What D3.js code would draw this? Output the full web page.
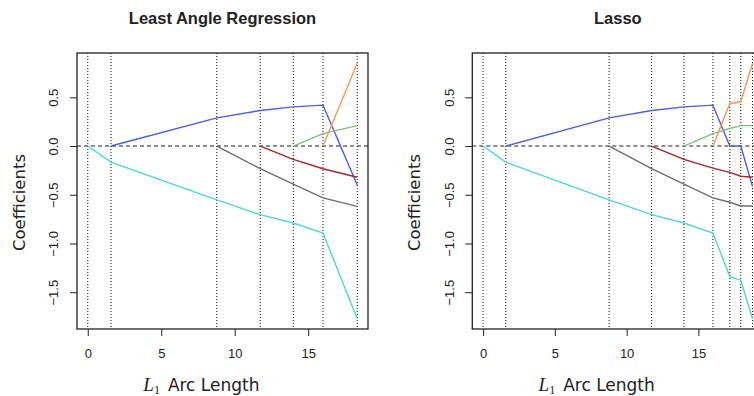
<!DOCTYPE html>
<html>
<head>
<meta charset="utf-8">
<script src="https://cdn.jsdelivr.net/npm/d3@7"></script>
<style>
  body { margin: 0; background: #fff; }
  svg { display: block; }
  .tick text { font-family: "Liberation Sans", Arial, sans-serif; font-size: 13px; fill: #222; }
  .tick line { stroke: #222; }
</style>
</head>
<body>
<div id="chart"></div>
<script>
// Breakpoints along the L1 arc length
const larsSteps = [0, 1.58, 8.78, 11.74, 13.99, 16.01, 18.34];
const lassoSteps = [0, 1.58, 8.78, 11.74, 13.99, 16.01, 17.19, 17.95, 18.77];

// Coefficient values at each breakpoint (null = not yet in the model)
const larsCyan   = [0, -0.165, -0.553, -0.704, -0.79, -0.893, -1.773];
const larsBlue   = [null, 0, 0.289, 0.365, 0.402, 0.42, -0.40];
const larsGray   = [null, null, 0, -0.233, -0.392, -0.532, -0.619];
const larsRed    = [null, null, null, 0, -0.137, -0.233, -0.32];
const larsGreen  = [null, null, null, null, 0, 0.128, 0.21];
const larsOrange = [null, null, null, null, null, 0, 0.85];

const lassoCyan   = [0, -0.165, -0.553, -0.704, -0.79, -0.893, -1.34, -1.377, -1.773];
const lassoBlue   = [null, 0, 0.289, 0.365, 0.402, 0.42, 0, 0, -0.415];
const lassoGray   = [null, null, 0, -0.233, -0.392, -0.532, -0.577, -0.615, -0.615];
const lassoRed    = [null, null, null, 0, -0.137, -0.227, -0.27, -0.31, -0.32];
const lassoGreen  = [null, null, null, null, 0, 0.128, 0.18, 0.21, 0.21];
const lassoOrange = [null, null, null, null, null, 0, 0.437, 0.454, 0.85];

const seriesColors = ["#4fd8d4", "#4a5fe2", "#6e6e6e", "#a3282c", "#7cc47c", "#ff9650"];

const xTicks = [0, 5, 10, 15];
const yTicks = [0.5, 0, -0.5, -1, -1.5];
const titles = ["Least Angle Regression", "Lasso"];

const W = 754, H = 396;
const box = {top: 53, width: 291, height: 276};
const panelLeft = [77, 472.3];

const svg = d3.select("#chart").append("svg")
  .attr("width", W)
  .attr("height", H);

// R style 4% padding on each side
const pad = ext => { const r = ext[1] - ext[0]; return [ext[0] - 0.04 * r, ext[1] + 0.04 * r]; };

const allY = larsCyan.concat(larsOrange, lassoCyan, lassoOrange).filter(v => v != null);
const y = d3.scaleLinear()
  .domain(pad(d3.extent(allY)))
  .range([box.height, 0]);

const panels = [
  {steps: larsSteps, series: [larsCyan, larsBlue, larsGray, larsRed, larsGreen, larsOrange]},
  {steps: lassoSteps, series: [lassoCyan, lassoBlue, lassoGray, lassoRed, lassoGreen, lassoOrange]}
];

panels.forEach((p, i) => {
  const g = svg.append("g")
    .attr("transform", `translate(${panelLeft[i]},${box.top})`);

  const x = d3.scaleLinear()
    .domain(pad(d3.extent(p.steps)))
    .range([0, box.width]);

  // Title
  g.append("text")
    .attr("x", box.width / 2)
    .attr("y", 23.5 - box.top)
    .attr("text-anchor", "middle")
    .style("font-family", "'Liberation Sans', Arial, sans-serif")
    .style("font-weight", "bold")
    .style("font-size", "16.5px")
    .style("fill", "#222")
    .text(titles[i]);

  // Vertical dotted lines at each step
  g.selectAll(".step")
    .data(p.steps)
    .join("line")
    .attr("x1", d => x(d)).attr("x2", d => x(d))
    .attr("y1", 0).attr("y2", box.height)
    .attr("stroke", "#111")
    .attr("stroke-width", 1)
    .attr("stroke-dasharray", "1,2");

  // Zero line
  g.append("line")
    .attr("x1", 0).attr("x2", box.width)
    .attr("y1", y(0)).attr("y2", y(0))
    .attr("stroke", "#222")
    .attr("stroke-width", 1.1)
    .attr("stroke-dasharray", "4,3");

  // Coefficient paths
  const line = d3.line()
    .defined(d => d.v != null)
    .x(d => x(d.s))
    .y(d => y(d.v));

  p.series.forEach((vals, k) => {
    g.append("path")
      .datum(vals.map((v, j) => ({s: p.steps[j], v: v})))
      .attr("fill", "none")
      .attr("stroke", seriesColors[k])
      .attr("stroke-width", 1.4)
      .attr("d", line);
  });

  // Box
  g.append("rect")
    .attr("width", box.width)
    .attr("height", box.height)
    .attr("fill", "none")
    .attr("stroke", "#222")
    .attr("stroke-width", 1.3);

  // X axis
  const xa = g.append("g")
    .attr("transform", `translate(0,${box.height})`)
    .call(d3.axisBottom(x).tickValues(xTicks).tickSize(7).tickPadding(13).tickFormat(d3.format("d")));
  xa.select(".domain").remove();

  // Y axis, labels rotated like R
  const ya = g.append("g")
    .call(d3.axisLeft(y).tickValues(yTicks).tickSize(7).tickFormat(d => d3.format(".1f")(d).replace("-", "\u2212")));
  ya.select(".domain").remove();
  ya.selectAll("text")
    .attr("x", null)
    .attr("dy", null)
    .attr("text-anchor", "middle")
    .attr("transform", "translate(-18.7,0) rotate(-90)");

  // Y label
  g.append("text")
    .attr("transform", `translate(-52,${202.5 - box.top}) rotate(-90)`)
    .attr("text-anchor", "middle")
    .style("font-family", "'DejaVu Sans', sans-serif")
    .style("font-size", "16.5px")
    .style("fill", "#222")
    .text("Coefficients");

  // X label: L1 Arc Length
  const xl = g.append("text")
    .attr("x", 66.3)
    .attr("y", 391 - box.top)
    .style("fill", "#222");
  xl.append("tspan")
    .style("font-family", "'Liberation Serif', serif")
    .style("font-style", "italic")
    .style("font-size", "19px")
    .text("L");
  xl.append("tspan")
    .attr("dy", 2.5)
    .style("font-family", "'Liberation Serif', serif")
    .style("font-size", "12px")
    .text("1");
  xl.append("tspan")
    .attr("dy", -2.5)
    .attr("dx", 8)
    .style("font-family", "'DejaVu Sans', sans-serif")
    .style("font-size", "17px")
    .text("Arc Length");
});
</script>
</body>
</html>
